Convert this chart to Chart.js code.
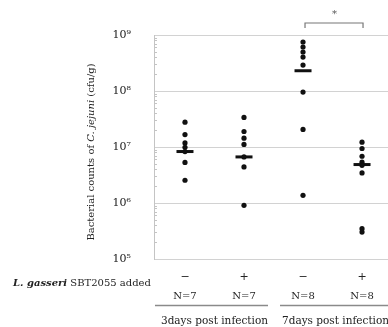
<!DOCTYPE html>
<html>
<head>
<meta charset="utf-8">
<script src="https://cdn.jsdelivr.net/npm/chart.js@4"></script>
<style>
  html, body { margin: 0; padding: 0; background: #fff; overflow: hidden; }
  #wrap { width: 388px; height: 327px; position: relative; }
</style>
</head>
<body>
<div id="wrap"><canvas id="chart"></canvas></div>
<script>
// Group positions and labels
const groupX = [1, 2, 3, 4];
const treatment = ['\u2212', '+', '\u2212', '+'];
const sampleSize = ['N=7', 'N=7', 'N=8', 'N=8'];
const periods = ['3days post infection', '7days post infection'];
const yTicks = [1e5, 1e6, 1e7, 1e8, 1e9];

// Individual counts (cfu/g)
const day3Control = [2.78e7, 1.67e7, 1.18e7, 9.9e6, 8.3e6, 5.3e6, 2.55e6];
const day3Gasseri = [3.37e7, 1.89e7, 1.44e7, 1.11e7, 6.65e6, 4.4e6, 9.1e5];
const day7Control = [7.5e8, 6.1e8, 4.97e8, 4.04e8, 2.9e8, 9.55e7, 2.06e7, 1.37e6];
const day7Gasseri = [1.22e7, 9.4e6, 6.84e6, 5.35e6, 4.7e6, 3.44e6, 3.48e5, 3.03e5];
const medians = [8.3e6, 6.65e6, 2.3e8, 4.86e6];

const groups = [day3Control, day3Gasseri, day7Control, day7Gasseri];
const serif = '"DejaVu Serif", serif';
const textColor = '#222';

const dotSets = groups.map((vals, i) => ({
    data: vals.map(v => ({ x: groupX[i], y: v })),
    pointRadius: 2.6,
    pointBackgroundColor: '#111',
    pointBorderWidth: 0,
    showLine: false
}));

const medianSet = {
    data: medians.map((v, i) => ({ x: groupX[i], y: v })),
    pointStyle: 'line',
    pointRadius: 8.5,
    pointBorderWidth: 3,
    pointBorderColor: '#111',
    showLine: false
};

const annotations = {
    id: 'annotations',
    afterDraw(chart) {
        const { ctx, chartArea, scales: { x, y } } = chart;
        ctx.save();

        // minor ticks on the log axis
        ctx.strokeStyle = '#c4c4c4';
        ctx.lineWidth = 1;
        for (let e = 5; e < 9; e++) {
            for (let k = 2; k <= 9; k++) {
                const py = Math.round(y.getPixelForValue(k * Math.pow(10, e))) + 0.5;
                ctx.beginPath();
                ctx.moveTo(chartArea.left, py);
                ctx.lineTo(chartArea.left + 3, py);
                ctx.stroke();
            }
        }

        // y axis title with italic species name
        const parts = [
            ['Bacterial counts of ', 'normal'],
            ['C. jejuni', 'italic'],
            [' (cfu/g)', 'normal']
        ];
        ctx.fillStyle = textColor;
        ctx.textBaseline = 'middle';
        ctx.textAlign = 'left';
        let total = 0;
        parts.forEach(p => { ctx.font = p[1] + ' 10px ' + serif; total += ctx.measureText(p[0]).width; });
        ctx.translate(91, 152);
        ctx.rotate(-Math.PI / 2);
        let cx = -total / 2;
        parts.forEach(p => {
            ctx.font = p[1] + ' 10px ' + serif;
            ctx.fillText(p[0], cx, 0);
            cx += ctx.measureText(p[0]).width;
        });
        ctx.setTransform(1, 0, 0, 1, 0, 0);

        // treatment row label
        ctx.font = 'italic bold 10px ' + serif;
        ctx.fillText('L. gasseri', 13, 283);
        const w = ctx.measureText('L. gasseri').width;
        ctx.font = '10px ' + serif;
        ctx.fillText(' SBT2055 added', 13 + w, 283);

        // +/- and N labels
        ctx.textAlign = 'center';
        groupX.forEach((g, i) => {
            const px = x.getPixelForValue(g);
            ctx.font = '11px ' + serif;
            ctx.fillText(treatment[i], px, 277);
            ctx.font = '10px ' + serif;
            ctx.fillText(sampleSize[i], px, 296);
        });

        // period underlines and labels
        ctx.strokeStyle = '#8a8a8a';
        ctx.lineWidth = 1.5;
        const p1 = x.getPixelForValue(1), p2 = x.getPixelForValue(2);
        const p3 = x.getPixelForValue(3), p4 = x.getPixelForValue(4);
        [[p1 - 30, p2 + 24], [p3 - 23, p4 + 30]].forEach(([a, b]) => {
            ctx.beginPath();
            ctx.moveTo(a, 305.5);
            ctx.lineTo(b, 305.5);
            ctx.stroke();
        });
        ctx.font = '10.5px ' + serif;
        ctx.fillText(periods[0], (p1 + p2) / 2, 321);
        ctx.fillText(periods[1], (p3 + p4) / 2 + 3, 321);

        // significance bracket
        ctx.strokeStyle = '#777';
        ctx.lineWidth = 1.2;
        const top = chartArea.top - 12;
        ctx.beginPath();
        ctx.moveTo(p3 + 2, top + 5);
        ctx.lineTo(p3 + 2, top);
        ctx.lineTo(p4 + 1, top);
        ctx.lineTo(p4 + 1, top + 5);
        ctx.stroke();
        ctx.fillStyle = '#555';
        ctx.font = '10px ' + serif;
        ctx.fillText('*', (p3 + p4) / 2 + 2, top - 9);

        ctx.restore();
    }
};

new Chart(document.getElementById('chart'), {
    type: 'scatter',
    data: { datasets: [...dotSets, medianSet] },
    plugins: [annotations],
    options: {
        responsive: true,
        maintainAspectRatio: false,
        animation: false,
        layout: { autoPadding: false, padding: { top: 35, bottom: 68, left: 0, right: 0 } },
        plugins: { legend: { display: false }, tooltip: { enabled: false } },
        scales: {
            x: {
                type: 'linear',
                min: 0.475,
                max: 4.44,
                display: false
            },
            y: {
                type: 'logarithmic',
                min: 1e5,
                max: 1e9,
                afterFit: s => { s.width = 154; },
                afterBuildTicks: s => { s.ticks = yTicks.map(v => ({ value: v, major: true })); },
                border: { display: true, color: '#c4c4c4' },
                grid: { color: '#d2d2d2', drawTicks: false },
                ticks: {
                    padding: 23,
                    color: textColor,
                    font: { family: serif, size: 11 },
                    callback: v => '10' + '\u2070\u00b9\u00b2\u00b3\u2074\u2075\u2076\u2077\u2078\u2079'[Math.round(Math.log10(v))]
                }
            }
        }
    }
});
</script>
</body>
</html>
